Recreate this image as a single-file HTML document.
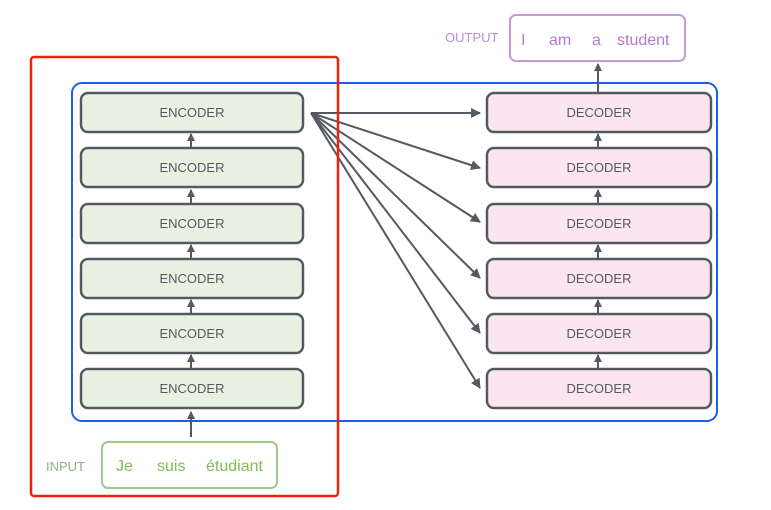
<!DOCTYPE html><html><head><style>body{margin:0;background:#fff}</style></head><body>
<svg width="771" height="505" xmlns="http://www.w3.org/2000/svg" font-family="'Liberation Sans',sans-serif">
<defs><marker id="a" markerWidth="8" markerHeight="8" refX="7" refY="4" orient="auto" markerUnits="userSpaceOnUse"><path d="M0,0 L8,4 L0,8 Z" fill="#555a60"/></marker>
<marker id="b" markerWidth="10" markerHeight="10" refX="9" refY="5" orient="auto" markerUnits="userSpaceOnUse"><path d="M0,0 L10,5 L0,10 Z" fill="#555a60"/></marker></defs>
<rect x="72" y="83" width="645" height="338" rx="10" fill="none" stroke="#1a5ef0" stroke-width="2"/>
<g stroke="#555a60" stroke-width="2" fill="none">
<line x1="191" y1="437" x2="191" y2="412" marker-end="url(#a)"/>
<line x1="191" y1="369" x2="191" y2="355" marker-end="url(#a)"/>
<line x1="191" y1="314" x2="191" y2="300" marker-end="url(#a)"/>
<line x1="191" y1="259" x2="191" y2="245" marker-end="url(#a)"/>
<line x1="191" y1="204" x2="191" y2="190" marker-end="url(#a)"/>
<line x1="191" y1="148" x2="191" y2="134" marker-end="url(#a)"/>
<line x1="598" y1="369" x2="598" y2="355" marker-end="url(#a)"/>
<line x1="598" y1="314" x2="598" y2="300" marker-end="url(#a)"/>
<line x1="598" y1="259" x2="598" y2="245" marker-end="url(#a)"/>
<line x1="598" y1="204" x2="598" y2="190" marker-end="url(#a)"/>
<line x1="598" y1="148" x2="598" y2="134" marker-end="url(#a)"/>
<line x1="598" y1="93" x2="598" y2="64" marker-end="url(#a)"/>
<line x1="311" y1="113" x2="480" y2="113" marker-end="url(#b)"/>
<line x1="311" y1="113" x2="480" y2="168" marker-end="url(#b)"/>
<line x1="311" y1="113" x2="480" y2="222" marker-end="url(#b)"/>
<line x1="311" y1="113" x2="480" y2="278" marker-end="url(#b)"/>
<line x1="311" y1="113" x2="480" y2="333" marker-end="url(#b)"/>
<line x1="311" y1="113" x2="480" y2="388" marker-end="url(#b)"/>
</g>
<g stroke="#555a60" stroke-width="2.5">
<g fill="#e7f2e2"><rect x="81" y="93" width="222" height="39" rx="7"/><rect x="81" y="148" width="222" height="39" rx="7"/><rect x="81" y="204" width="222" height="39" rx="7"/><rect x="81" y="259" width="222" height="39" rx="7"/><rect x="81" y="314" width="222" height="39" rx="7"/><rect x="81" y="369" width="222" height="39" rx="7"/></g>
<g fill="#fbe5ef"><rect x="487" y="93" width="224" height="39" rx="7"/><rect x="487" y="148" width="224" height="39" rx="7"/><rect x="487" y="204" width="224" height="39" rx="7"/><rect x="487" y="259" width="224" height="39" rx="7"/><rect x="487" y="314" width="224" height="39" rx="7"/><rect x="487" y="369" width="224" height="39" rx="7"/></g>
</g>
<g font-size="13" fill="#555a60" text-anchor="middle">
<text x="192" y="117">ENCODER</text><text x="192" y="172">ENCODER</text><text x="192" y="228">ENCODER</text><text x="192" y="283">ENCODER</text><text x="192" y="338">ENCODER</text><text x="192" y="393">ENCODER</text>
<text x="599" y="117">DECODER</text><text x="599" y="172">DECODER</text><text x="599" y="228">DECODER</text><text x="599" y="283">DECODER</text><text x="599" y="338">DECODER</text><text x="599" y="393">DECODER</text>
</g>
<rect x="31" y="57" width="307" height="439" rx="3" fill="none" stroke="#f0200e" stroke-width="2.5"/>
<rect x="510" y="15" width="175" height="46" rx="6" fill="#fff" stroke="#c49ad8" stroke-width="2"/>
<text x="445" y="42" font-size="13" fill="#b98bd6">OUTPUT</text>
<g font-size="16" fill="#b37ad4"><text x="521" y="45">I</text><text x="549" y="45">am</text><text x="592" y="45">a</text><text x="617" y="45">student</text></g>
<rect x="102" y="442" width="175" height="46" rx="6" fill="#fff" stroke="#9cc98f" stroke-width="2"/>
<text x="46" y="471" font-size="13" fill="#8ab57c">INPUT</text>
<g font-size="16" fill="#7cbf4f"><text x="116" y="471">Je</text><text x="157" y="471">suis</text><text x="206" y="471">étudiant</text></g>
</svg></body></html>
